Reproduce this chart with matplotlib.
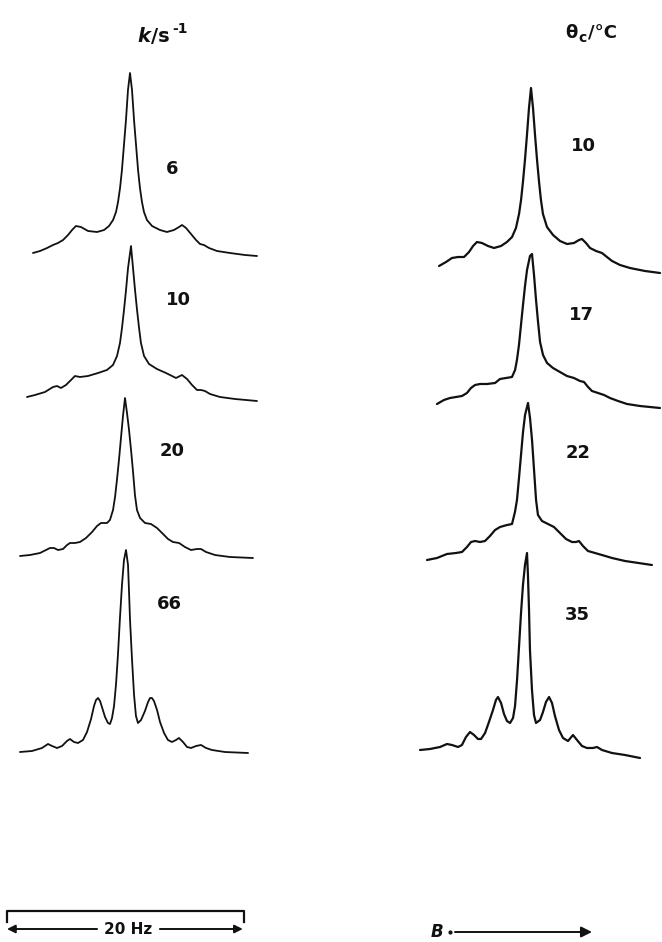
import matplotlib.pyplot as plt

# Spectra: offset from line centre (Hz) and intensity (arb. units)
# left column: exchange rate k / s^-1
hz_k6 = [-8.19, -7.59, -7.0, -6.5, -6.08, -5.65, -5.23, -4.89, -4.56, -4.14, -3.54, -2.78, -2.19,
         -1.77, -1.43, -1.18, -1.01, -0.84, -0.68, -0.53, -0.34, -0.17, 0.0,
         0.17, 0.34, 0.53, 0.68, 0.84, 1.01, 1.18, 1.43, 1.86, 2.53, 3.12, 3.71, 4.14, 4.39,
         4.73, 5.15, 5.57, 5.91, 6.24, 6.67, 7.34, 8.44, 9.7, 10.72]
amp_k6 = [5, 7, 10, 13, 15, 18, 23, 28, 32, 31, 27, 26, 28,
          32, 38, 46, 56, 70, 88, 110, 138, 168, 185,
          168, 138, 110, 88, 70, 56, 46, 38, 32, 28, 26, 28, 31, 33,
          30, 24, 18, 14, 13, 10, 7, 5, 3, 2]

hz_k10 = [-8.78, -8.1, -7.26, -6.58, -6.24, -5.91, -5.49, -5.06, -4.73, -4.3, -3.63, -2.78, -2.03,
          -1.52, -1.18, -0.93, -0.76, -0.59, -0.42, -0.25, 0.0,
          0.17, 0.34, 0.51, 0.68, 0.84, 1.1, 1.52, 2.19, 2.95, 3.8, 4.3, 4.73, 5.15, 5.57,
          5.91, 6.24, 6.67, 7.51, 8.78, 10.63]
amp_k10 = [5, 7, 10, 15, 16, 14, 17, 22, 26, 25, 26, 29, 32,
           37, 46, 59, 74, 92, 112, 134, 156,
           134, 112, 92, 74, 59, 46, 38, 33, 29, 24, 27, 23, 17, 12,
           12, 11, 8, 5, 3, 1]

hz_k20 = [-8.86, -8.02, -7.17, -6.33, -6.0, -5.65, -5.23, -4.89, -4.64, -4.22, -3.8, -3.29, -2.78,
          -2.36, -2.03, -1.52, -1.27, -1.01, -0.84, -0.68, -0.51, -0.34, -0.17, 0.0,
          0.17, 0.34, 0.51, 0.68, 0.84, 1.01, 1.27, 1.69, 2.19, 2.7, 3.21, 3.63, 4.05, 4.56,
          5.06, 5.57, 6.08, 6.41, 6.84, 7.59, 8.86, 10.8]
amp_k20 = [3, 4, 6, 11, 11, 9, 10, 14, 16, 16, 17, 21, 27,
           33, 36, 36, 39, 49, 62, 79, 99, 121, 143, 161,
           146, 129, 109, 87, 64, 49, 41, 36, 35, 31, 25, 20, 17, 16,
           12, 9, 10, 10, 7, 4, 2, 1]

hz_k66 = [-8.95, -7.93, -7.09, -6.58, -6.24, -5.82, -5.4, -4.98, -4.73, -4.39, -4.05, -3.63, -3.29,
          -2.95, -2.7, -2.53, -2.36, -2.19, -2.03, -1.77, -1.52, -1.35, -1.18, -1.01, -0.84,
          -0.68, -0.51, -0.34, -0.17, 0.0,
          0.17, 0.25, 0.34, 0.51, 0.68, 0.84, 1.01, 1.27, 1.6, 1.86, 2.03, 2.19, 2.36, 2.62,
          2.87, 3.21, 3.54, 3.88, 4.22, 4.47, 4.81, 5.15, 5.49, 5.91, 6.33, 6.75, 7.26, 8.35, 10.3]
amp_k66 = [2, 3, 6, 10, 8, 6, 8, 13, 15, 12, 11, 14, 22,
           35, 48, 54, 56, 53, 47, 37, 31, 30, 36, 48, 70,
           99, 136, 169, 194, 204,
           189, 164, 134, 94, 59, 38, 31, 34, 43, 52, 56, 56, 53, 44,
           32, 21, 14, 12, 14, 16, 12, 7, 6, 8, 9, 6, 4, 2, 1]

# right column: coalescence temperature theta_c / deg C
hz_t10 = [-7.76, -7.17, -6.67, -6.16, -5.65, -5.23, -4.89, -4.56, -4.14, -3.63, -3.12, -2.53, -2.03,
          -1.6, -1.27, -1.01, -0.84, -0.68, -0.51, -0.34, -0.17, 0.0,
          0.17, 0.34, 0.51, 0.68, 0.84, 1.01, 1.35, 1.86, 2.45, 3.04, 3.63, 4.05, 4.3, 4.64,
          4.98, 5.49, 5.99, 6.41, 6.84, 7.51, 8.35, 9.62, 10.89]
amp_t10 = [8, 12, 16, 17, 17, 22, 28, 32, 31, 28, 26, 28, 32,
           37, 46, 60, 74, 92, 114, 139, 166, 186,
           166, 139, 114, 92, 74, 60, 47, 39, 33, 30, 31, 34, 35, 31,
           26, 23, 21, 17, 13, 9, 6, 3, 1]

hz_t17 = [-8.02, -7.43, -6.92, -6.41, -5.91, -5.49, -5.15, -4.81, -4.39, -3.8, -3.12, -2.7, -2.19,
          -1.69, -1.43, -1.27, -1.1, -0.93, -0.76, -0.59, -0.42, -0.17, 0.0,
          0.17, 0.34, 0.51, 0.68, 0.93, 1.27, 1.77, 2.36, 2.95, 3.54, 4.05, 4.39, 4.73, 5.06,
          5.57, 6.08, 6.58, 7.26, 8.02, 9.11, 10.8]
amp_t17 = [6, 10, 12, 13, 14, 17, 22, 25, 26, 26, 27, 31, 32,
           33, 40, 50, 65, 85, 105, 124, 140, 154, 156,
           135, 110, 88, 68, 55, 47, 42, 38, 34, 32, 29, 28, 23, 19,
           17, 15, 12, 9, 6, 4, 2]

hz_t22 = [-8.52, -7.68, -6.84, -6.08, -5.57, -5.15, -4.81, -4.47, -4.05, -3.63, -3.21, -2.78, -2.36,
          -1.77, -1.35, -1.1, -0.93, -0.76, -0.59, -0.42, -0.25, 0.0,
          0.17, 0.34, 0.51, 0.68, 0.84, 1.18, 1.69, 2.19, 2.7, 3.21, 3.71, 4.05, 4.3, 4.64,
          5.06, 5.65, 6.24, 7.09, 8.19, 10.46]
amp_t22 = [6, 8, 12, 13, 14, 19, 24, 25, 24, 25, 30, 36, 39,
           41, 42, 54, 66, 88, 111, 134, 151, 163,
           148, 126, 96, 66, 51, 45, 42, 39, 33, 27, 24, 24, 25, 20,
           15, 13, 11, 8, 5, 1]

hz_t35 = [-9.03, -8.19, -7.34, -6.75, -6.33, -5.82, -5.49, -5.15, -4.81, -4.47, -4.14, -3.88, -3.54,
          -3.21, -2.87, -2.62, -2.45, -2.19, -1.94, -1.69, -1.43, -1.18, -1.01, -0.84, -0.68,
          -0.51, -0.34, -0.17, 0.0,
          0.08, 0.17, 0.25, 0.42, 0.59, 0.76, 1.1, 1.35, 1.6, 1.86, 2.11, 2.36, 2.7, 3.04,
          3.46, 3.88, 4.22, 4.64, 5.06, 5.57, 5.91, 6.33, 7.17, 8.27, 9.54]
amp_t35 = [10, 11, 13, 16, 15, 13, 15, 23, 28, 25, 21, 21, 27,
           38, 50, 60, 63, 57, 46, 39, 37, 42, 54, 80, 112,
           146, 175, 195, 207,
           185, 150, 110, 70, 45, 37, 40, 48, 58, 63, 57, 44, 30, 22,
           19, 25, 20, 14, 12, 12, 13, 10, 7, 5, 2]

k_labels = ['6', '10', '20', '66']
temp_labels = ['10', '17', '22', '35']

W, H = 662, 942
PX_PER_HZ = 11.85          # 20 Hz bar is ~237 px wide
FONT = ['Liberation Sans Narrow', 'DejaVu Sans']
INK = '#111111'

fig = plt.figure(figsize=(W / 100, H / 100), dpi=100)

# overlay axes in pixel coordinates for the lettering
ax = fig.add_axes([0, 0, 1, 1])
ax.set_xlim(0, W)
ax.set_ylim(H, 0)
ax.axis('off')


def spectrum_axes(cx, y0, hz_lo=-10, hz_hi=12, top=230):
    left = cx + hz_lo * PX_PER_HZ
    width = (hz_hi - hz_lo) * PX_PER_HZ
    a = fig.add_axes([left / W, 1 - y0 / H, width / W, top / H])
    a.set_xlim(hz_lo, hz_hi)
    a.set_ylim(0, top)
    a.axis('off')
    return a


# (hz, amp, centre x px, baseline y px, line width, label, label x, label y)
left_col = [
    (hz_k6, amp_k6, 130, 258, 1.3, k_labels[0], 172, 169),
    (hz_k10, amp_k10, 131, 402, 1.3, k_labels[1], 178, 300),
    (hz_k20, amp_k20, 125, 559, 1.3, k_labels[2], 172, 451),
    (hz_k66, amp_k66, 126, 754, 1.3, k_labels[3], 169, 604),
]
right_col = [
    (hz_t10, amp_t10, 531, 274, 1.6, temp_labels[0], 583, 146),
    (hz_t17, amp_t17, 532, 410, 1.6, temp_labels[1], 581, 315),
    (hz_t22, amp_t22, 528, 566, 1.6, temp_labels[2], 578, 453),
    (hz_t35, amp_t35, 527, 760, 1.6, temp_labels[3], 577, 615),
]

for hz, amp, cx, y0, lw, lab, lx, ly in left_col + right_col:
    sa = spectrum_axes(cx, y0)
    sa.plot(hz, amp, color=INK, lw=lw, solid_joinstyle='round', solid_capstyle='round')
    ax.text(lx, ly, lab, ha='center', va='center', fontsize=13, fontweight='bold',
            family=FONT, color=INK)

# column headers
ax.text(137, 42, 'k', ha='left', va='baseline', fontsize=14, fontweight='bold',
        fontstyle='italic', family=FONT, color=INK)
ax.text(151, 42, '/s', ha='left', va='baseline', fontsize=14, fontweight='bold',
        family=FONT, color=INK)
ax.text(172, 33, '-1', ha='left', va='baseline', fontsize=10, fontweight='bold',
        family=FONT, color=INK)

ax.text(565, 38, 'θ', ha='left', va='baseline', fontsize=13, fontweight='bold',
        family=FONT, color=INK)
ax.text(578, 42, 'c', ha='left', va='baseline', fontsize=10, fontweight='bold',
        family=FONT, color=INK)
ax.text(588, 38, '/°C', ha='left', va='baseline', fontsize=13, fontweight='bold',
        family=FONT, color=INK)

# 20 Hz scale bar, drawn on a Hz axis with the same scale as the spectra
bar = fig.add_axes([7 / W, 0, 20 * PX_PER_HZ / W, 1])
bar.set_xlim(0, 20)
bar.set_ylim(H, 0)
bar.axis('off')
bar.plot([0, 0, 20, 20], [922, 911, 911, 922], color=INK, lw=1.6, clip_on=False)
bar.annotate('', xy=(0, 929), xytext=(7.6, 929),
             arrowprops=dict(arrowstyle='-|>', color=INK, lw=1.4, mutation_scale=12,
                             shrinkA=0, shrinkB=0), annotation_clip=False)
bar.annotate('', xy=(19.9, 929), xytext=(12.9, 929),
             arrowprops=dict(arrowstyle='-|>', color=INK, lw=1.4, mutation_scale=12,
                             shrinkA=0, shrinkB=0), annotation_clip=False)
bar.text(10.2, 929, '20 Hz', ha='center', va='center', fontsize=11, fontweight='bold',
         family=FONT, color=INK)

# field direction arrow
ax.text(437, 932, 'B', ha='center', va='center', fontsize=12, fontweight='bold',
        fontstyle='italic', family=FONT, color=INK)
ax.plot([450], [932], marker='o', ms=2, color=INK)
ax.annotate('', xy=(592, 932), xytext=(455, 932),
            arrowprops=dict(arrowstyle='-|>', color=INK, lw=1.4, mutation_scale=16,
                            shrinkA=0, shrinkB=0))

fig.savefig('out.png', dpi=100, facecolor='white')
